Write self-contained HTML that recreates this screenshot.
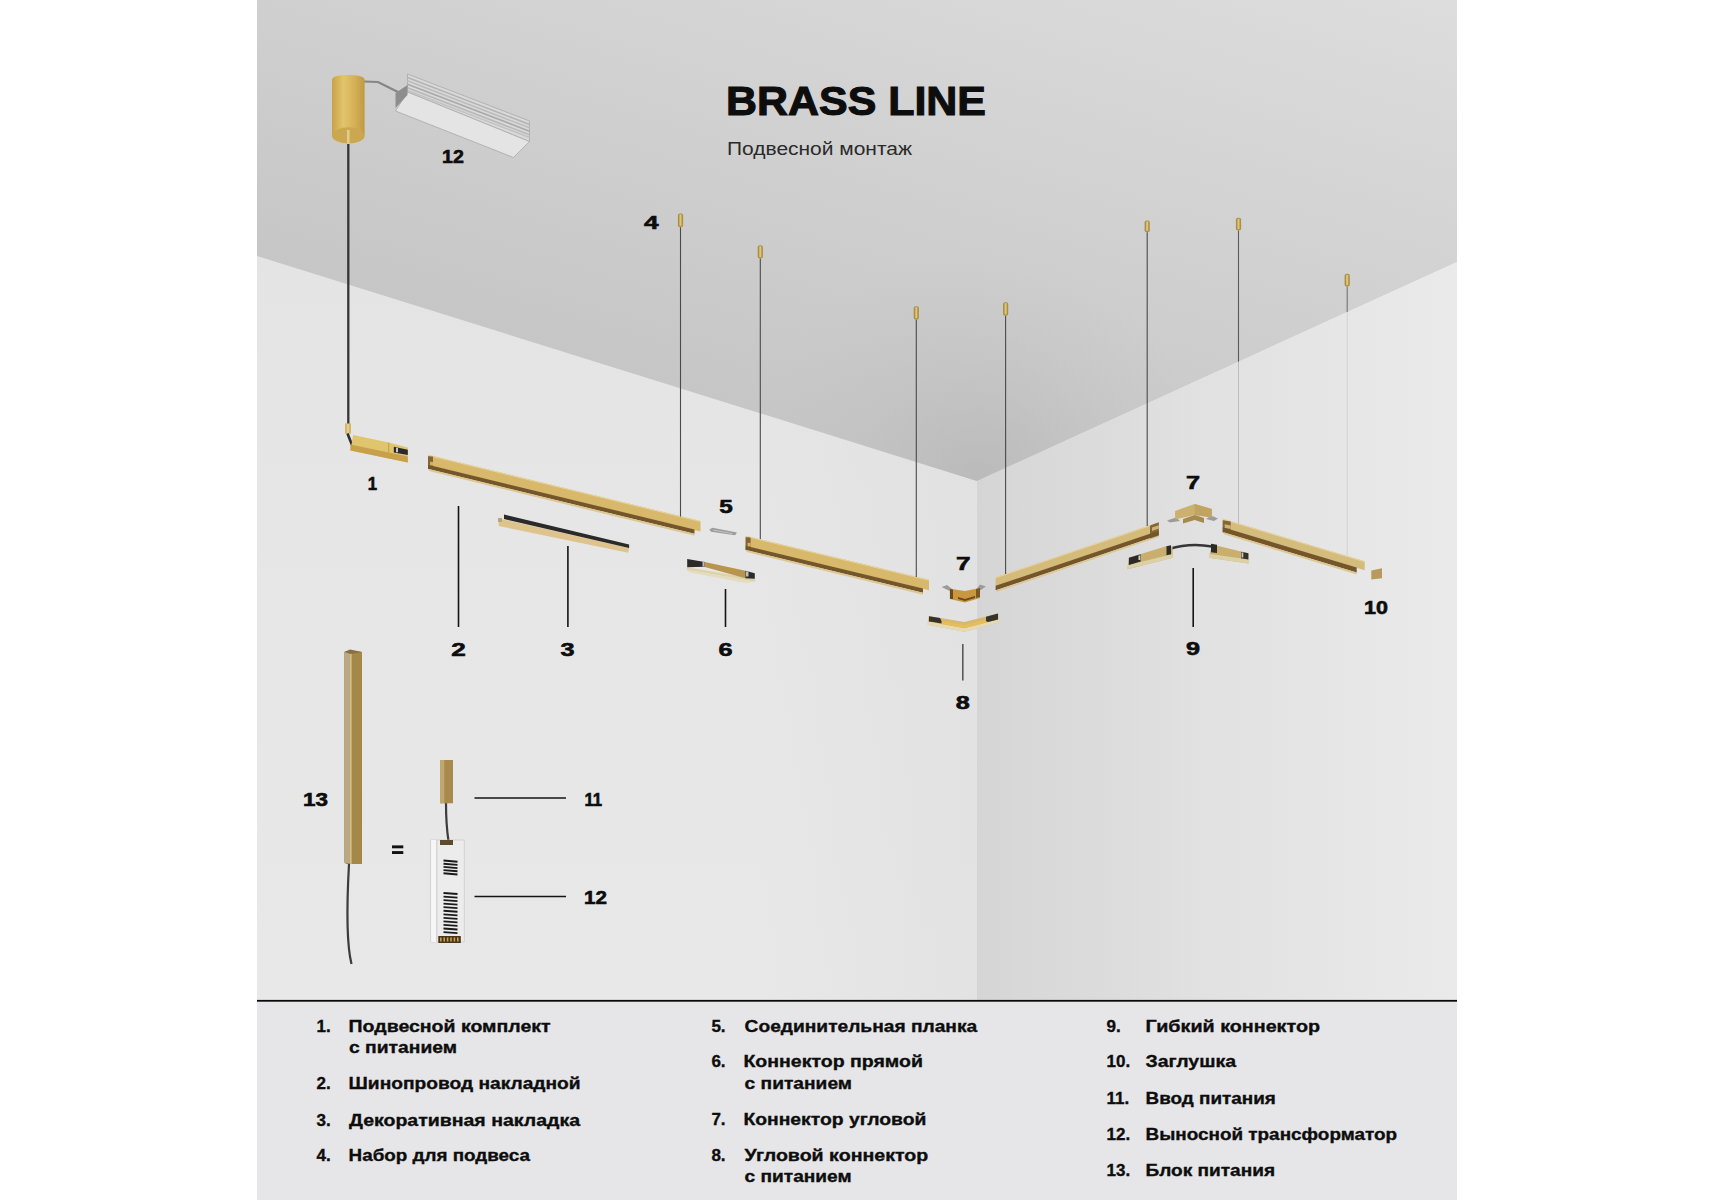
<!DOCTYPE html>
<html><head><meta charset="utf-8">
<style>
html,body{margin:0;padding:0;background:#fff;}
body{width:1715px;height:1200px;position:relative;overflow:hidden;}
svg{position:absolute;left:0;top:0;}
text{font-family:"Liberation Sans",sans-serif;}
.b{font-weight:bold;fill:#0d0d0d;}
</style></head><body>
<svg width="1715" height="1200" viewBox="0 0 1715 1200">
<defs>
<linearGradient id="ceil" gradientUnits="userSpaceOnUse" x1="257" y1="481" x2="488" y2="-291">
<stop offset="0" stop-color="#bebebe"/><stop offset="1" stop-color="#dddddd"/>
</linearGradient>
<linearGradient id="rwall" gradientUnits="userSpaceOnUse" x1="977" y1="0" x2="1457" y2="0">
<stop offset="0" stop-color="#d5d5d5"/><stop offset="0.09" stop-color="#d8d8d8"/><stop offset="0.28" stop-color="#dcdcdc"/><stop offset="0.46" stop-color="#e1e1e1"/><stop offset="0.92" stop-color="#e9e9e9"/><stop offset="1" stop-color="#eaeaea"/>
</linearGradient>
<radialGradient id="cdark" gradientUnits="userSpaceOnUse" cx="977" cy="481" r="230">
<stop offset="0" stop-color="#b6b6b6" stop-opacity="0.75"/><stop offset="0.5" stop-color="#bababa" stop-opacity="0.3"/><stop offset="1" stop-color="#c0c0c0" stop-opacity="0"/>
</radialGradient>
<linearGradient id="lwv" gradientUnits="userSpaceOnUse" x1="0" y1="260" x2="0" y2="1000">
<stop offset="0" stop-color="#e4e4e4"/><stop offset="0.35" stop-color="#e6e6e6"/><stop offset="1" stop-color="#e8e8e8"/>
</linearGradient>
<linearGradient id="lwh" gradientUnits="userSpaceOnUse" x1="760" y1="0" x2="977" y2="0">
<stop offset="0" stop-color="#dcdcdc" stop-opacity="0"/><stop offset="1" stop-color="#dcdcdc" stop-opacity="0.45"/>
</linearGradient>
</defs>
<rect x="257" y="0" width="720" height="1001" fill="url(#lwv)"/>
<polygon points="977,481 1457,262 1457,1001 977,1001" fill="url(#rwall)"/>
<rect x="760" y="256" width="217" height="745" fill="url(#lwh)"/>
<polygon points="257,0 1457,0 1457,262 977,481 257,256" fill="url(#ceil)"/>
<polygon points="257,0 1457,0 1457,262 977,481 257,256" fill="url(#cdark)"/>
<rect x="257" y="1001" width="1200" height="199" fill="#e6e6e8"/>
<rect x="257" y="999.9" width="1200" height="1.8" fill="#0a0a0a"/>
<path d="M364,81.5 L378,82 L400,93" stroke="#858585" stroke-width="2.2" fill="none"/>
<polygon points="407.5,74.0 529.5,121.0 529.5,141.5 407.5,92.0" fill="#d9d9d9" stroke="#a9a9a9" stroke-width="0.8"/>
<line x1="407.5" y1="77.5" x2="529.5" y2="124.5" stroke="#b3b3b3" stroke-width="1.6"/>
<line x1="407.5" y1="80.8" x2="529.5" y2="127.8" stroke="#bcbcbc" stroke-width="1.6"/>
<line x1="407.5" y1="84.2" x2="529.5" y2="131.2" stroke="#a9a9a9" stroke-width="1.6"/>
<line x1="407.5" y1="87.8" x2="529.5" y2="134.8" stroke="#b8b8b8" stroke-width="1.6"/>
<line x1="407.5" y1="90.5" x2="529.5" y2="137.5" stroke="#c2c2c2" stroke-width="1.6"/>
<polygon points="407.5,92.0 529.5,141.5 513.5,157.5 395.5,111.0" fill="#e4e4e4" stroke="#a9a9a9" stroke-width="0.8"/>
<polygon points="395.5,93.0 407.5,85.0 407.5,95.0 395.5,108.0" fill="#8d8d8d"/>
<defs><linearGradient id="cyl" x1="0" y1="0" x2="1" y2="0"><stop offset="0" stop-color="#c9a248"/><stop offset="0.35" stop-color="#e2c46c"/><stop offset="0.7" stop-color="#d4b058"/><stop offset="1" stop-color="#c09a42"/></linearGradient></defs>
<path d="M332,80 Q332,75 348,75 Q364.6,75 364.6,80 L364.6,135.5 A16.3,8.2 0 0 1 332,135.5 Z" fill="url(#cyl)"/>
<ellipse cx="348.3" cy="135.3" rx="15.8" ry="8" fill="#cba750"/>
<rect x="347" y="130" width="2.6" height="15" fill="#e3cc8a"/>
<line x1="348.3" y1="144" x2="348.3" y2="424" stroke="#363636" stroke-width="2.3"/>
<rect x="345" y="423.4" width="6" height="10.3" fill="#d3b565"/>
<rect x="347" y="424" width="2" height="9" fill="#e6d08e"/>
<path d="M347.5,433.5 L352,445" stroke="#2e2e2e" stroke-width="2.6"/>
<polygon points="353.2,435.0 388.6,442.5 407.8,447.6 407.8,462.6 350.4,450.4" fill="#e0c46e"/>
<polygon points="350.4,444.5 407.8,456.5 407.8,462.6 350.4,450.4" fill="#c8a04a"/>
<line x1="388.6" y1="442.5" x2="388.6" y2="455.5" stroke="#c9a550" stroke-width="1.2"/>
<polygon points="393.8,446.7 407.8,449.8 407.8,455.1 393.8,452.5" fill="#2a2a2e"/>
<rect x="396" y="447.8" width="2" height="4.5" fill="#c8c8c8"/>
<polygon points="428.0,454.8 700.5,521.0 700.5,531.5 428.0,465.3" fill="#d8b96c"/>
<polyline points="428.0,455.3 700.5,521.5" stroke="#e6d3a0" stroke-width="1" fill="none"/>
<polygon points="428.0,464.8 694.5,529.5 694.5,533.8 428.0,469.1" fill="#74562a"/>
<polygon points="429.0,469.1 694.5,533.8 694.5,535.8 429.0,471.1" fill="#dcc793"/>
<polygon points="428.0,456.3 433.0,456.5 433.0,466.5 428.0,469.1" fill="#74562a" opacity="0.85"/>
<polygon points="430.0,461.8 433.0,462.0 433.0,465.5 430.0,465.3" fill="#d8b96c" opacity="0.9"/>
<polygon points="745.6,535.8 929.0,579.8 929.0,590.3 745.6,546.3" fill="#d8b96c"/>
<polyline points="745.6,536.3 929.0,580.3" stroke="#e6d3a0" stroke-width="1" fill="none"/>
<polygon points="745.6,545.8 923.0,588.4 923.0,592.7 745.6,550.1" fill="#74562a"/>
<polygon points="746.6,550.1 923.0,592.7 923.0,594.7 746.6,552.1" fill="#dcc793"/>
<polygon points="745.6,537.3 750.6,537.5 750.6,547.5 745.6,550.1" fill="#74562a" opacity="0.85"/>
<polygon points="747.6,542.8 750.6,543.0 750.6,546.5 747.6,546.3" fill="#d8b96c" opacity="0.9"/>
<polygon points="995.6,577.3 1158.8,522.3 1158.8,531.3 995.6,586.3" fill="#d4bb7a"/>
<polyline points="995.6,577.8 1158.8,522.8" stroke="#e6d3a0" stroke-width="1" fill="none"/>
<polygon points="995.6,585.8 1158.8,530.8 1158.8,535.3 995.6,590.3" fill="#74562a"/>
<polygon points="996.6,590.3 1158.8,535.3 1158.8,537.1 996.6,592.1" fill="#dcc793"/>
<polygon points="1150.0,525.5 1158.8,522.3 1158.8,535.5 1150.0,538.5" fill="#74562a" opacity="0.85"/>
<polygon points="1152.0,527.5 1158.8,525.2 1158.8,528.5 1152.0,531.0" fill="#d4bb7a" opacity="0.9"/>
<polygon points="1222.7,518.7 1364.7,561.3 1364.7,570.3 1222.7,527.7" fill="#d4bc7c"/>
<polyline points="1222.7,519.2 1364.7,561.8" stroke="#e6d3a0" stroke-width="1" fill="none"/>
<polygon points="1222.7,527.2 1356.7,567.4 1356.7,572.4 1222.7,532.2" fill="#74562a"/>
<polygon points="1223.7,532.2 1356.7,572.4 1356.7,574.4 1223.7,534.2" fill="#dcc793"/>
<polygon points="1222.7,520.2 1230.7,521.6 1230.7,530.1 1222.7,532.2" fill="#74562a" opacity="0.85"/>
<polygon points="1224.7,524.3 1230.7,525.6 1230.7,529.1 1224.7,527.8" fill="#d4bc7c" opacity="0.9"/>
<polygon points="498.7,518.5 629.1,547.9 628.2,552.7 498.7,526.0" fill="#dec48c"/>
<polygon points="504.0,514.6 629.1,544.4 629.1,547.9 504.0,519.0" fill="#2c2a28"/>
<rect x="498" y="518" width="4" height="4" fill="#b9a57a"/>
<polygon points="709.4,529.5 712.5,527.8 737.0,532.6 735.0,535.3 711.0,531.8" fill="#9c9c9c"/>
<polygon points="713.0,529.6 733.0,533.3 732.0,534.0 713.0,530.5" fill="#c4c4c4"/>
<polygon points="687.2,567.3 754.8,578.7 755.3,581.7 686.4,569.8" fill="#ddd2a8"/>
<polygon points="686.4,569.8 755.3,581.7 745.0,583.0 690.0,572.5" fill="#e3dcc0"/>
<polygon points="704.8,561.9 745.4,570.8 745.4,578.2 704.8,567.0" fill="#b8944c"/>
<polygon points="687.2,558.9 704.8,561.9 704.8,566.8 687.2,567.3" fill="#2c2b2a"/>
<polygon points="745.4,570.8 754.8,573.3 754.8,578.7 745.4,578.2" fill="#2c2b2a"/>
<rect x="702.5" y="561.5" width="2" height="5" fill="#bdbdbd"/>
<rect x="746" y="571.5" width="2.5" height="5" fill="#bdbdbd"/>
<polygon points="941.6,586.9 947.0,585.0 952.0,589.0 949.8,591.0" fill="#9a9a9a"/>
<polygon points="985.9,586.6 980.0,584.5 977.0,588.5 980.0,590.5" fill="#9a9a9a"/>
<polygon points="949.8,588.7 964.9,591.0 980.0,588.0 980.0,598.0 964.9,602.5 949.8,599.0" fill="#c8973e"/>
<polygon points="950.0,589.0 953.0,589.5 953.0,599.0 950.0,599.0" fill="#6b4a20"/>
<polygon points="958.0,597.0 965.0,599.0 975.0,596.0 975.0,598.0 965.0,601.0 958.0,599.0" fill="#6b4a20"/>
<polygon points="976.0,589.0 980.0,588.0 980.0,597.0 976.0,598.0" fill="#7a5626"/>
<polygon points="928.8,616.1 964.3,622.0 998.2,613.5 998.8,622.5 964.3,631.8 927.6,624.8" fill="#d6b86e"/>
<polygon points="927.6,621.5 964.3,628.3 998.8,619.5 998.8,622.5 964.3,631.8 927.6,624.8" fill="#e6dab4"/>
<polygon points="942.0,621.0 964.3,625.0 985.0,619.5 985.0,623.0 964.3,628.0 942.0,624.0" fill="#e6bd5c"/>
<polygon points="929.0,616.3 940.0,618.0 941.5,621.0 941.5,623.5 933.0,622.0 929.0,621.5" fill="#35312c"/>
<polygon points="986.0,616.8 998.0,613.6 998.0,619.5 988.0,622.0 986.0,621.0" fill="#35312c"/>
<polygon points="1167.0,520.5 1176.0,517.5 1180.0,521.0 1170.0,522.5" fill="#9c9c9c"/>
<polygon points="1218.0,518.5 1211.0,515.5 1206.0,519.0 1214.0,521.0" fill="#9c9c9c"/>
<polygon points="1175.1,510.9 1194.7,504.0 1211.8,508.9 1211.8,517.4 1194.7,515.0 1175.1,519.5" fill="#cbb06e"/>
<polygon points="1194.7,504.0 1211.8,508.9 1211.8,517.4 1194.7,515.0" fill="#c2a462"/>
<polygon points="1183.0,519.0 1194.7,515.0 1204.0,518.0 1204.0,523.0 1194.7,520.0 1183.0,523.5" fill="#a8894c"/>
<path d="M1169,549 Q1190,542.5 1212,546.5" stroke="#353535" stroke-width="2.4" fill="none"/>
<polygon points="1128.9,557.7 1166.8,546.0 1172.6,547.0 1172.6,557.7 1127.4,569.3" fill="#c9ae6c"/>
<polygon points="1127.4,565.3 1172.6,554.0 1172.6,557.7 1127.4,569.3" fill="#dcd0a6"/>
<polygon points="1128.9,557.7 1140.6,554.2 1140.6,561.5 1128.9,565.0" fill="#2b2a29"/>
<polygon points="1166.5,546.2 1171.0,545.3 1171.0,554.3 1166.5,555.3" fill="#2b2a29"/>
<rect x="1138.5" y="555.5" width="1.8" height="4.5" fill="#d0d0d0"/>
<polygon points="1212.0,544.5 1248.4,553.3 1248.4,563.5 1209.0,557.7" fill="#c9ae6c"/>
<polygon points="1209.0,553.7 1248.4,559.5 1248.4,563.5 1209.0,557.7" fill="#dcd0a6"/>
<polygon points="1211.0,543.8 1217.0,544.8 1217.0,553.0 1211.0,552.2" fill="#2b2a29"/>
<polygon points="1241.0,551.8 1248.4,553.3 1248.4,559.5 1241.0,558.2" fill="#35322e"/>
<rect x="1241.5" y="552.5" width="1.8" height="5" fill="#c9c9c9"/>
<polygon points="1371.3,570.5 1382.0,568.3 1382.0,578.3 1371.3,579.5" fill="#b89a5c"/>
<line x1="680.5" y1="227.3" x2="680.5" y2="516.5" stroke="#4a4a4a" stroke-width="1.1" opacity="1.0"/>
<rect x="677.9" y="213.5" width="5.2" height="13.8" rx="2" fill="#ab8f45"/>
<rect x="679.5" y="214.5" width="2" height="11.3" fill="#dcc77c"/>
<line x1="760.3" y1="258.6" x2="760.3" y2="539.0" stroke="#4a4a4a" stroke-width="1.1" opacity="1.0"/>
<rect x="757.7" y="245.2" width="5.2" height="13.4" rx="2" fill="#ab8f45"/>
<rect x="759.3" y="246.2" width="2" height="10.9" fill="#dcc77c"/>
<line x1="916.3" y1="319.7" x2="916.3" y2="577.0" stroke="#4a4a4a" stroke-width="1.1" opacity="1.0"/>
<rect x="913.7" y="306.2" width="5.2" height="13.5" rx="2" fill="#ab8f45"/>
<rect x="915.3" y="307.2" width="2" height="11.0" fill="#dcc77c"/>
<line x1="1005.6" y1="315.8" x2="1005.6" y2="574.0" stroke="#4a4a4a" stroke-width="1.1" opacity="1.0"/>
<rect x="1003.0" y="302.2" width="5.2" height="13.6" rx="2" fill="#ab8f45"/>
<rect x="1004.6" y="303.2" width="2" height="11.1" fill="#dcc77c"/>
<line x1="1147.2" y1="232.3" x2="1147.2" y2="526.0" stroke="#4a4a4a" stroke-width="1.1" opacity="1.0"/>
<rect x="1144.6" y="220.4" width="5.2" height="11.9" rx="2" fill="#ab8f45"/>
<rect x="1146.2" y="221.4" width="2" height="9.4" fill="#dcc77c"/>
<line x1="1238.5" y1="230.6" x2="1238.5" y2="361.8" stroke="#5a5a5a" stroke-width="1.1" opacity="1.0"/>
<rect x="1235.9" y="217.8" width="5.2" height="12.8" rx="2" fill="#ab8f45"/>
<rect x="1237.5" y="218.8" width="2" height="10.3" fill="#dcc77c"/>
<line x1="1238.5" y1="361.8" x2="1238.5" y2="523.5" stroke="#bdbdbd" stroke-width="1"/>
<line x1="1347.2" y1="286.6" x2="1347.2" y2="312.0" stroke="#6a6a6a" stroke-width="1.0" opacity="1.0"/>
<rect x="1344.6" y="273.8" width="5.2" height="12.8" rx="2" fill="#ab8f45"/>
<rect x="1346.2" y="274.8" width="2" height="10.3" fill="#dcc77c"/>
<line x1="1347.2" y1="312" x2="1347.2" y2="556" stroke="#d3d3d3" stroke-width="1"/>
<line x1="458.5" y1="506" x2="458.5" y2="627" stroke="#141414" stroke-width="1.6"/>
<line x1="567.9" y1="546" x2="567.9" y2="627" stroke="#141414" stroke-width="1.6"/>
<line x1="725.5" y1="589" x2="725.5" y2="627" stroke="#141414" stroke-width="1.6"/>
<line x1="962.8" y1="644" x2="962.8" y2="680.6" stroke="#5a5a5a" stroke-width="1.6"/>
<line x1="1193.2" y1="568" x2="1193.2" y2="627" stroke="#141414" stroke-width="1.6"/>
<line x1="474.5" y1="798" x2="566" y2="798" stroke="#141414" stroke-width="1.5"/>
<line x1="474.5" y1="896.5" x2="566" y2="896.5" stroke="#141414" stroke-width="1.5"/>
<rect x="392" y="845.4" width="11.3" height="2.9" fill="#111"/>
<rect x="392" y="851.1" width="11.3" height="2.9" fill="#111"/>
<path d="M349,864 C347,900 345.5,940 351.5,964" stroke="#3c3c3c" stroke-width="2.2" fill="none"/>
<polygon points="344.2,652.0 350.0,650.0 362.0,652.0 362.0,864.0 346.0,864.0 344.2,862.0" fill="#a3884a"/>
<rect x="344.2" y="652" width="6.3" height="211" fill="#bba986"/>
<rect x="350.2" y="652" width="1.4" height="212" fill="#dcc283"/>
<polygon points="344.2,652 350,649.5 362,652 350.5,654" fill="#8a7040"/>
<path d="M446,803 C446,815 446.5,828 448.5,841" stroke="#3c3c3c" stroke-width="2.2" fill="none"/>
<rect x="440.3" y="760" width="12.7" height="43.3" fill="#a98a4c"/>
<rect x="440.3" y="760" width="4" height="43.3" fill="#bfa76f"/>
<rect x="430.8" y="840" width="33.4" height="102" fill="#ececec" stroke="#c4c4c4" stroke-width="0.6"/>
<rect x="431.2" y="840" width="5" height="102" fill="#f6f6f6"/>
<rect x="436.2" y="840" width="1.2" height="102" fill="#d0d0d0"/>
<line x1="443.5" y1="860.5" x2="457.5" y2="861.7" stroke="#1a1a1a" stroke-width="1.9"/>
<line x1="443.5" y1="863.7" x2="457.5" y2="864.9000000000001" stroke="#1a1a1a" stroke-width="1.9"/>
<line x1="443.5" y1="866.9" x2="457.5" y2="868.1" stroke="#1a1a1a" stroke-width="1.9"/>
<line x1="443.5" y1="870.1" x2="457.5" y2="871.3000000000001" stroke="#1a1a1a" stroke-width="1.9"/>
<line x1="443.5" y1="873.3" x2="457.5" y2="874.5" stroke="#1a1a1a" stroke-width="1.9"/>
<line x1="443.5" y1="893.0" x2="457.5" y2="894.0" stroke="#1a1a1a" stroke-width="1.8"/>
<line x1="443.5" y1="896.55" x2="457.5" y2="897.55" stroke="#1a1a1a" stroke-width="1.8"/>
<line x1="443.5" y1="900.1" x2="457.5" y2="901.1" stroke="#1a1a1a" stroke-width="1.8"/>
<line x1="443.5" y1="903.65" x2="457.5" y2="904.65" stroke="#1a1a1a" stroke-width="1.8"/>
<line x1="443.5" y1="907.2" x2="457.5" y2="908.2" stroke="#1a1a1a" stroke-width="1.8"/>
<line x1="443.5" y1="910.75" x2="457.5" y2="911.75" stroke="#1a1a1a" stroke-width="1.8"/>
<line x1="443.5" y1="914.3" x2="457.5" y2="915.3" stroke="#1a1a1a" stroke-width="1.8"/>
<line x1="443.5" y1="917.85" x2="457.5" y2="918.85" stroke="#1a1a1a" stroke-width="1.8"/>
<line x1="443.5" y1="921.4" x2="457.5" y2="922.4" stroke="#1a1a1a" stroke-width="1.8"/>
<line x1="443.5" y1="924.95" x2="457.5" y2="925.95" stroke="#1a1a1a" stroke-width="1.8"/>
<line x1="443.5" y1="928.5" x2="457.5" y2="929.5" stroke="#1a1a1a" stroke-width="1.8"/>
<line x1="443.5" y1="932.05" x2="457.5" y2="933.05" stroke="#1a1a1a" stroke-width="1.8"/>
<rect x="438.3" y="936" width="22.5" height="7" fill="#4a3518"/>
<rect x="440.0" y="937.5" width="1.6" height="4" fill="#c9a055"/>
<rect x="443.4" y="937.5" width="1.6" height="4" fill="#c9a055"/>
<rect x="446.8" y="937.5" width="1.6" height="4" fill="#c9a055"/>
<rect x="450.2" y="937.5" width="1.6" height="4" fill="#c9a055"/>
<rect x="453.6" y="937.5" width="1.6" height="4" fill="#c9a055"/>
<rect x="457.0" y="937.5" width="1.6" height="4" fill="#c9a055"/>
<rect x="440" y="840" width="13" height="5" fill="#5e4a2c"/>
<text class="b" x="726" y="115.2" font-size="40.3" stroke="#0d0d0d" stroke-width="1.1" stroke-linejoin="miter" textLength="260" lengthAdjust="spacingAndGlyphs">BRASS LINE</text>
<text x="727" y="155" font-size="18.9" fill="#2a2a2a" textLength="185" lengthAdjust="spacingAndGlyphs">Подвесной монтаж</text>
<g class="b" font-size="18.7" text-anchor="middle" transform="translate(0 0.5)" stroke="#0d0d0d" stroke-width="0.6">
<text x="453" y="163" transform="translate(453 0) scale(1.05 1) translate(-453 0)">12</text>
<text x="651.3" y="228.7" transform="translate(651.3 0) scale(1.4 1) translate(-651.3 0)">4</text>
<text x="372.5" y="489.8" transform="translate(372.5 0) scale(0.9 1) translate(-372.5 0)">1</text>
<text x="726" y="512.6" transform="translate(726 0) scale(1.3 1) translate(-726 0)">5</text>
<text x="458.6" y="655.3" transform="translate(458.6 0) scale(1.4 1) translate(-458.6 0)">2</text>
<text x="567.5" y="655.3" transform="translate(567.5 0) scale(1.35 1) translate(-567.5 0)">3</text>
<text x="725.5" y="655.3" transform="translate(725.5 0) scale(1.35 1) translate(-725.5 0)">6</text>
<text x="963.3" y="569.7" transform="translate(963.3 0) scale(1.4 1) translate(-963.3 0)">7</text>
<text x="962.8" y="709" transform="translate(962.8 0) scale(1.35 1) translate(-962.8 0)">8</text>
<text x="1193" y="488.4" transform="translate(1193 0) scale(1.35 1) translate(-1193 0)">7</text>
<text x="1193" y="654.7" transform="translate(1193 0) scale(1.35 1) translate(-1193 0)">9</text>
<text x="1376" y="614" transform="translate(1376 0) scale(1.15 1) translate(-1376 0)">10</text>
<text x="315.5" y="805.7" transform="translate(315.5 0) scale(1.2 1) translate(-315.5 0)">13</text>
<text x="593.3" y="805.9" transform="translate(593.3 0) scale(0.9 1) translate(-593.3 0)">11</text>
<text x="595.5" y="904" transform="translate(595.5 0) scale(1.1 1) translate(-595.5 0)">12</text>

</g>
<g class="b" font-size="17.0" stroke="#0d0d0d" stroke-width="0.35">
<text x="316.6" y="1032">1.</text>
<text x="348.6" y="1032" textLength="202" lengthAdjust="spacingAndGlyphs">Подвесной комплект</text>
<text x="349" y="1052.6" textLength="108" lengthAdjust="spacingAndGlyphs">с питанием</text>
<text x="316.6" y="1089">2.</text>
<text x="348.6" y="1089" textLength="232" lengthAdjust="spacingAndGlyphs">Шинопровод накладной</text>
<text x="316.6" y="1126">3.</text>
<text x="349" y="1126" textLength="231" lengthAdjust="spacingAndGlyphs">Декоративная накладка</text>
<text x="316.6" y="1161">4.</text>
<text x="348.6" y="1161" textLength="181.4" lengthAdjust="spacingAndGlyphs">Набор для подвеса</text>
<text x="711.4" y="1031.6">5.</text>
<text x="744.6" y="1031.6" textLength="232.6" lengthAdjust="spacingAndGlyphs">Соединительная планка</text>
<text x="711.4" y="1067.4">6.</text>
<text x="743.4" y="1067.4" textLength="179.6" lengthAdjust="spacingAndGlyphs">Коннектор прямой</text>
<text x="744.6" y="1088.6" textLength="107.4" lengthAdjust="spacingAndGlyphs">с питанием</text>
<text x="711.4" y="1125">7.</text>
<text x="743.4" y="1125" textLength="183" lengthAdjust="spacingAndGlyphs">Коннектор угловой</text>
<text x="711.4" y="1161.2">8.</text>
<text x="744.6" y="1161.2" textLength="183.7" lengthAdjust="spacingAndGlyphs">Угловой коннектор</text>
<text x="744.6" y="1182.2" textLength="107" lengthAdjust="spacingAndGlyphs">с питанием</text>
<text x="1106.6" y="1031.6">9.</text>
<text x="1145.5" y="1031.6" textLength="174.5" lengthAdjust="spacingAndGlyphs">Гибкий коннектор</text>
<text x="1106.6" y="1067.4">10.</text>
<text x="1145.5" y="1067.4" textLength="90.5" lengthAdjust="spacingAndGlyphs">Заглушка</text>
<text x="1106.6" y="1103.6">11.</text>
<text x="1145.5" y="1103.6" textLength="130.3" lengthAdjust="spacingAndGlyphs">Ввод питания</text>
<text x="1106.6" y="1139.8">12.</text>
<text x="1145.5" y="1139.8" textLength="251.5" lengthAdjust="spacingAndGlyphs">Выносной трансформатор</text>
<text x="1106.6" y="1175.9">13.</text>
<text x="1145.5" y="1175.9" textLength="129.5" lengthAdjust="spacingAndGlyphs">Блок питания</text>
</g>
</svg>
</body></html>
